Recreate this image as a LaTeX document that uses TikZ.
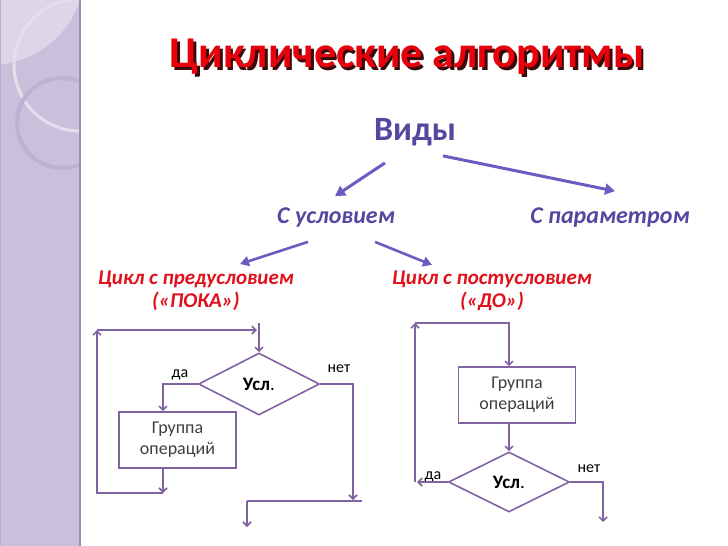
\documentclass[tikz,border=0pt]{standalone}
\usepackage{fontspec}
\setmainfont{Carlito}
\usetikzlibrary{shapes.geometric,arrows.meta}
\definecolor{stripfill}{HTML}{C9C0DB}
\definecolor{striplight}{HTML}{DCD6E8}
\definecolor{stripedge}{HTML}{9A8EB4}
\definecolor{ringlight}{HTML}{E4DFEC}
\definecolor{ringdark}{HTML}{BCB2D2}
\definecolor{flowcol}{HTML}{8064A2}
\definecolor{arrowcol}{HTML}{6A5CC0}
\definecolor{bluetext}{HTML}{5546A0}
\definecolor{redtext}{HTML}{E0101C}
\definecolor{titlered}{HTML}{E8000B}
\definecolor{titleshade}{HTML}{3A0A0A}
\definecolor{graytext}{HTML}{3F3F3F}
\newcommand\shadowed[1]{\makebox[0pt][l]{\hspace{2.5pt}\raisebox{-2.5pt}{\color{titleshade}#1}}#1}

\begin{document}
\begin{tikzpicture}[x=1pt,y=-1pt,line width=1.6pt,
  flow/.style={draw=flowcol,-{Straight Barb[length=4pt,width=8pt]}},
  plain/.style={draw=flowcol},
  kind/.style={draw=arrowcol,line width=3pt,-{Triangle[length=10pt,width=11pt]}},
  subkind/.style={draw=arrowcol,line width=2.6pt,-{Triangle[length=9pt,width=10pt]}},
  decision/.style={diamond,draw=flowcol,minimum width=121pt,minimum height=62pt,inner sep=0pt,
    font=\fontsize{19}{22}\selectfont,text=black},
  opbox/.style={rectangle,draw=flowcol,minimum width=117pt,minimum height=56pt,align=center,
    font=\fontsize{18}{21}\selectfont,text=graytext},
  yesno/.style={font=\fontsize{16}{19}\selectfont,text=black,inner sep=0pt},
  looptype/.style={align=center,text=redtext,font=\fontsize{21}{23}\selectfont\bfseries\itshape}]
\useasboundingbox (0,0) rectangle (728,546);
% side strip
\fill[stripfill] (0,0) rectangle (80,546);
\begin{scope}
\clip (0,0) rectangle (80,546);
\fill[striplight] (-10,-30) circle[radius=95];
\draw[ringlight,line width=3pt] (80,65) circle[radius=66];
\draw[ringdark,line width=4pt] (62,123) circle[radius=45];
\end{scope}
\draw[stripedge,line width=1.2pt] (80,0)--(80,546);
\draw[stripedge!70,line width=1pt] (.5,0)--(.5,546);
% title
\node[text=titlered,font=\fontsize{44}{50}\selectfont\bfseries] (title) at (407,58) {\shadowed{Циклические алгоритмы}};
% kinds
\node[text=bluetext,font=\fontsize{34}{38}\selectfont\bfseries] (vidy) at (415,132) {Виды};
\node[text=bluetext,font=\fontsize{24}{28}\selectfont\bfseries\itshape] (uslov) at (336,218) {С условием};
\node[text=bluetext,font=\fontsize{24}{28}\selectfont\bfseries\itshape] (param) at (610,218) {С параметром};
\node[looptype] (pred) at (196,291) {Цикл с предусловием\\(«ПОКА»)};
\node[looptype] (post) at (492,291) {Цикл с постусловием\\(«ДО»)};
\draw[kind] ([shift={(-30,13)}]vidy.south)--([shift={(-1,-8)}]uslov.north);
\draw[kind] ([shift={(28,6)}]vidy.south)--([shift={(5,-13)}]param.north);
\draw[subkind] ([shift={(-28,10)}]uslov.south)--([shift={(44,-3)}]pred.north);
\draw[subkind] ([shift={(39,10)}]uslov.south)--([shift={(-60,-2)}]post.north);
% while loop
\coordinate (inL) at (259,323);
\node[decision] (dL) at (259,384) {\textbf{Усл}.};
\node[opbox] (bL) at (177.5,440) {Группа\\операций};
\coordinate (backL) at (163,493);
\coordinate (upL) at (97,330);
\coordinate (outL) at (353,500);
\coordinate (exL) at (247,501);
\coordinate (exR) at (362,501);
\coordinate (endL) at (247,527);
\node[yesno] (daL) at (180,375) {да};
\node[yesno] (netL) at (339,369) {нет};
\draw[flow] (inL)--(dL.north);
\draw[flow] (dL.west)-|(bL.north-|backL);
\draw[flow] (bL.south-|backL)--(backL);
\draw[flow] (backL)-|(upL);
\draw[flow] (upL)--([xshift=-2pt]inL|-upL);
\draw[flow] (dL.east)-|(outL);
\draw[plain] (exL)--(exR);
\draw[flow] (exL)--(endL);
% do loop
\coordinate (cornR) at (415,323);
\node[opbox] (bR) at (517,395) {Группа\\операций};
\node[decision,minimum height=60pt] (dR) at (509,482) {\textbf{Усл}.};
\coordinate (outR) at (603,522);
\node[yesno] (daR) at (433,477) {да};
\node[yesno] (netR) at (589,469) {нет};
\draw[flow] (cornR)-|(bR.north-|dR);
\draw[flow] (bR.south-|dR)--(dR.north);
\draw[flow] (dR.west)--([xshift=2pt]cornR|-dR.west);
\draw[flow] (cornR|-dR.west)--(cornR);
\draw[flow] (dR.east)-|(outR);
\end{tikzpicture}
\end{document}
